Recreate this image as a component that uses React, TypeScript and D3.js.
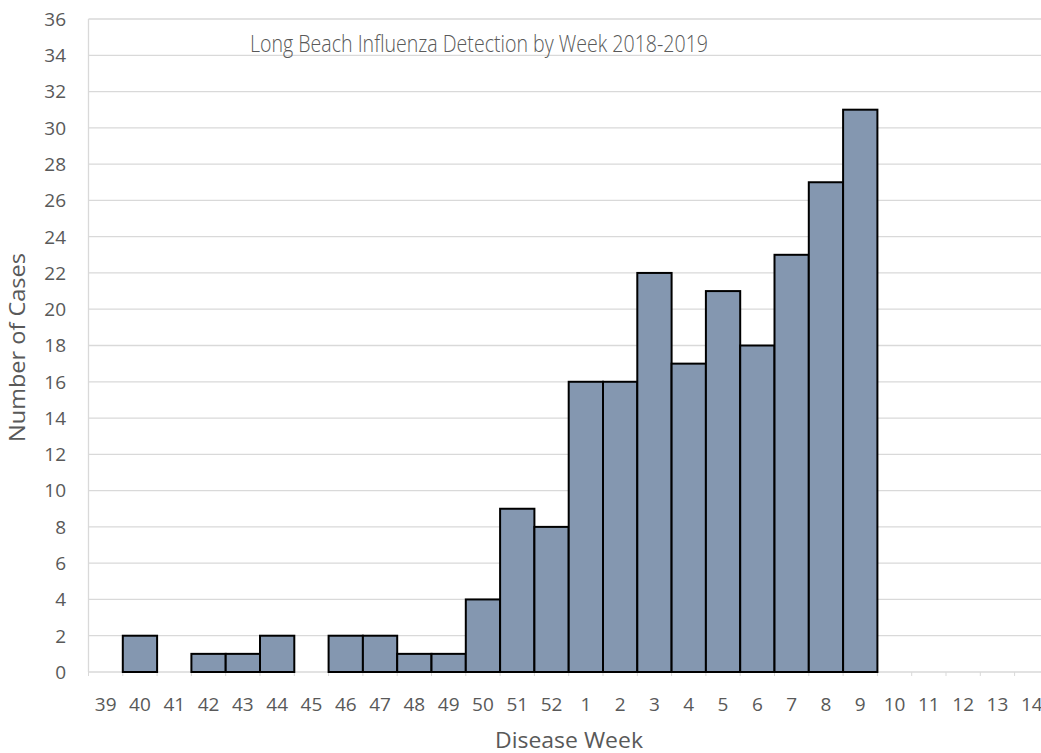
import React from "react";
import * as d3 from "d3";

const weeks: string[] = ["39","40","41","42","43","44","45","46","47","48","49","50","51","52","1","2","3","4","5","6","7","8","9","10","11","12","13","14"];
const cases: number[] = [0,2,0,1,1,2,0,2,2,1,1,4,9,8,16,16,22,17,21,18,23,27,31,0,0,0,0,0];
const yTicks: number[] = [0,2,4,6,8,10,12,14,16,18,20,22,24,26,28,30,32,34,36];
const title = "Long Beach Influenza Detection by Week 2018-2019";
const xTitle = "Disease Week";
const yTitle = "Number of Cases";

const W = 1041, H = 753;
const left = 88.5, top = 19, bottom = 672;
const band = 34.3;
const right = left + band * weeks.length;

export default function App() {
  const x = d3.scaleBand<string>().domain(weeks).range([left, right]).padding(0);
  const y = d3.scaleLinear().domain([0, 36]).range([bottom, top]);
  const font = "'Open Sans', 'Noto Sans', sans-serif";
  const txt = "#595959";
  return (
    <svg width={W} height={H} style={{ position: "absolute", left: 0, top: 0, background: "#fff" }} fontFamily={font}>
      <rect x={0} y={0} width={W} height={H} fill="#fff" />
      {yTicks.map((t) => (
        <line key={"g" + t} x1={left} x2={W} y1={y(t)} y2={y(t)} stroke="#d9d9d9" strokeWidth={1.3} />
      ))}
      <line x1={left} x2={left} y1={top} y2={bottom} stroke="#d9d9d9" strokeWidth={1.3} />
      {weeks.map((w) => (
        <line key={"t" + w} x1={x(w)!} x2={x(w)!} y1={bottom} y2={bottom + 4} stroke="#d9d9d9" strokeWidth={1} />
      ))}
      {weeks.map((w, i) =>
        cases[i] > 0 ? (
          <rect key={"b" + w} x={x(w)!} y={y(cases[i])} width={x.bandwidth()} height={y(0) - y(cases[i])}
            fill="#8497b0" stroke="#000" strokeWidth={2} />
        ) : null
      )}
      {yTicks.map((t) => (
        <text key={"l" + t} x={66} y={y(t)} dy="0.36em" textAnchor="end" fontSize={19} fill={txt}>{t}</text>
      ))}
      {weeks.map((w) => (
        <text key={"x" + w} x={x(w)! + x.bandwidth() / 2} y={711} textAnchor="middle" fontSize={19} fill={txt}>{w}</text>
      ))}
      <text x={479} y={52} textAnchor="middle" fontSize={24} fill={txt} fontWeight={300} textLength={458} lengthAdjust="spacingAndGlyphs">{title}</text>
      <text x={569} y={748} textAnchor="middle" fontSize={21} fill={txt} textLength={148} lengthAdjust="spacingAndGlyphs">{xTitle}</text>
      <text transform={`translate(25,347.5) rotate(-90)`} textAnchor="middle" fontSize={22} fill={txt} textLength={189} lengthAdjust="spacingAndGlyphs">{yTitle}</text>
    </svg>
  );
}
